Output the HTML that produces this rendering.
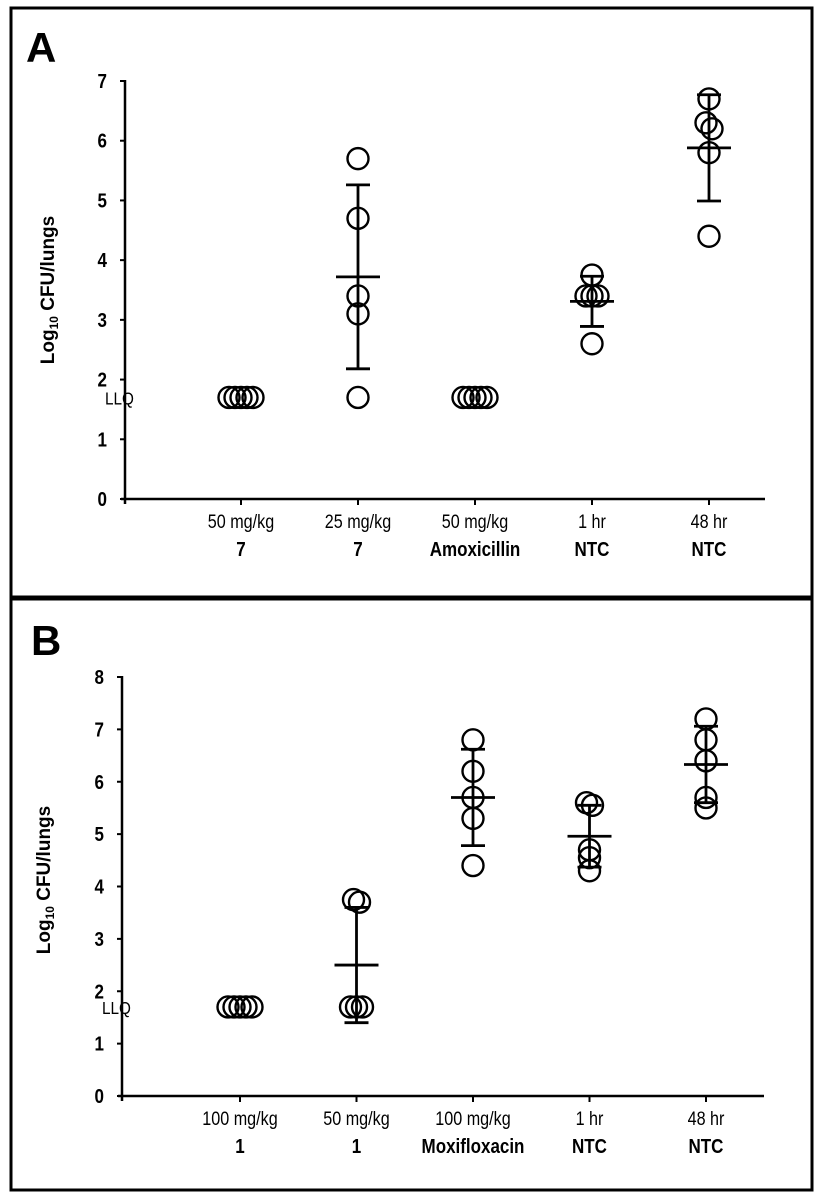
<!DOCTYPE html>
<html><head><meta charset="utf-8"><style>
html,body{margin:0;padding:0;background:#fff;}
svg{display:block;font-family:"Liberation Sans",Arial,sans-serif;}
</style></head><body>
<svg id="fig" width="822" height="1200" viewBox="0 0 822 1200">
<rect x="11" y="8" width="801" height="589" fill="none" stroke="#000" stroke-width="3"/>
<rect x="11" y="599" width="801" height="591" fill="none" stroke="#000" stroke-width="3"/>
<text x="26" y="62" font-size="42" font-weight="bold">A</text>
<text x="31" y="655" font-size="42" font-weight="bold">B</text>
<g id="plots"></g>
</svg>
<script>
// Panel A data
const catsA1 = ["50 mg/kg","25 mg/kg","50 mg/kg","1 hr","48 hr"];
const catsA2 = ["7","7","Amoxicillin","NTC","NTC"];
const valsA = [[1.7,1.7,1.7,1.7,1.7],[5.7,4.7,3.4,3.1,1.7],[1.7,1.7,1.7,1.7,1.7],[3.75,3.4,3.4,3.4,2.6],[6.7,6.3,6.2,5.8,4.4]];
const meanA = [null,3.72,null,3.31,5.88];
const sdA = [null,1.54,null,0.42,0.89];
const ticksA = [0,1,2,3,4,5,6,7];
// Panel B data
const catsB1 = ["100 mg/kg","50 mg/kg","100 mg/kg","1 hr","48 hr"];
const catsB2 = ["1","1","Moxifloxacin","NTC","NTC"];
const valsB = [[1.7,1.7,1.7,1.7,1.7],[3.75,3.7,1.7,1.7,1.7],[6.8,6.2,5.7,5.3,4.4],[5.6,5.55,4.7,4.55,4.3],[7.2,6.8,6.4,5.7,5.5]];
const meanB = [null,2.5,5.7,4.96,6.33];
const sdB = [null,1.1,0.92,0.59,0.73];
const ticksB = [0,1,2,3,4,5,6,7,8];

const NS="http://www.w3.org/2000/svg";
const root=document.getElementById('plots');
function mk(tag,attrs,parent){const e=document.createElementNS(NS,tag);for(const k in attrs)e.setAttribute(k,attrs[k]);(parent||root).appendChild(e);return e;}

function panel(p){
  const g=mk('g',{});
  
  
  const yS=v=>p.y0-(v-0)*(p.y0-p.yTop)/(p.ticks[p.ticks.length-1]);
  const xS=i=>p.x0+i*p.dx;
  const ya=mk('line',{x1:p.ax,y1:yS(p.ticks[p.ticks.length-1])-1,x2:p.ax,y2:p.y0+5,stroke:'#000','stroke-width':2.5},g);
  
  
  const xa=mk('line',{x1:p.ax-4,y1:p.y0,x2:p.xEnd,y2:p.y0,stroke:'#000','stroke-width':2.5},g);
  
  
  p.ticks.forEach(t=>{
    mk('line',{x1:p.ax-5,y1:yS(t),x2:p.ax,y2:yS(t),stroke:'#000','stroke-width':2},g);
    const tx=mk('text',{transform:`translate(${p.ax-18},${yS(t)+7}) scale(0.85,1)`,'font-size':20,'font-weight':'bold','text-anchor':'end'},g);
    tx.textContent=t;
    
    
  });
  const llq=mk('text',{x:p.ax-20,y:yS(1.7)+7,'font-size':18,'font-family':'Liberation Sans, sans-serif',transform:''},g);
  llq.setAttribute('transform',`translate(${p.ax-20},${yS(1.7)+7}) scale(0.85,1)`);
  llq.setAttribute('x',0);llq.setAttribute('y',0);
  llq.textContent='LLQ';
  
  
  const tl=mk('text',{transform:`translate(${p.titleX},${p.titleY}) rotate(-90)`,'font-size':19,'font-weight':'bold','text-anchor':'middle'},g);
  tl.innerHTML='Log<tspan font-size="12" dy="4">10</tspan><tspan dy="-4"> CFU/lungs</tspan>';
  
  
  p.c1.forEach((c,i)=>{
    const x=xS(i);
    mk('line',{x1:x,y1:p.y0,x2:x,y2:p.y0+6,stroke:'#000','stroke-width':2},g);
    const a=mk('text',{transform:`translate(${x},${p.y0+29}) scale(0.85,1)`,x:0,y:0,'font-size':19,'text-anchor':'middle'},g);
    a.textContent=c;
    
    
    const b=mk('text',{transform:`translate(${x},${p.y0+57}) scale(0.85,1)`,x:0,y:0,'font-size':20,'font-weight':'bold','text-anchor':'middle'},g);
    b.textContent=p.c2[i];
    
    
    const vs=p.vals[i];
    const groups=[];
    vs.forEach(v=>{let gr=groups.find(q=>Math.abs(q.v-v)<0.12);if(gr)gr.n.push(v);else groups.push({v:v,n:[v]});});
    groups.forEach(gr=>{
      gr.n.forEach((v,k)=>{
        const off=(k-(gr.n.length-1)/2)*6;
        const c=mk('circle',{cx:x+off,cy:yS(v),r:10.5,fill:'none',stroke:'#000','stroke-width':2.4},g);
        
        
      });
    });
    if(p.mean[i]!=null){
      const m=p.mean[i],s=p.sd[i];
      const eg=mk('g',{stroke:'#000','stroke-width':2.8},g);
      
      
      mk('line',{x1:x,y1:yS(m+s),x2:x,y2:yS(m-s)},eg);
      mk('line',{x1:x-12,y1:yS(m+s),x2:x+12,y2:yS(m+s)},eg);
      mk('line',{x1:x-12,y1:yS(m-s),x2:x+12,y2:yS(m-s)},eg);
      const ml=mk('line',{x1:x-22,y1:yS(m),x2:x+22,y2:yS(m)},eg);
      
      
    }
  });
}
panel({name:'panel-a-chart',ax:125,y0:499,yTop:81,ticks:ticksA,x0:241,dx:117,xEnd:765,c1:catsA1,c2:catsA2,vals:valsA,mean:meanA,sd:sdA,titleX:54,titleY:290});
panel({name:'panel-b-chart',ax:122,y0:1096,yTop:677,ticks:ticksB,x0:240,dx:116.5,xEnd:764,c1:catsB1,c2:catsB2,vals:valsB,mean:meanB,sd:sdB,titleX:50,titleY:880});
</script>
</body></html>
